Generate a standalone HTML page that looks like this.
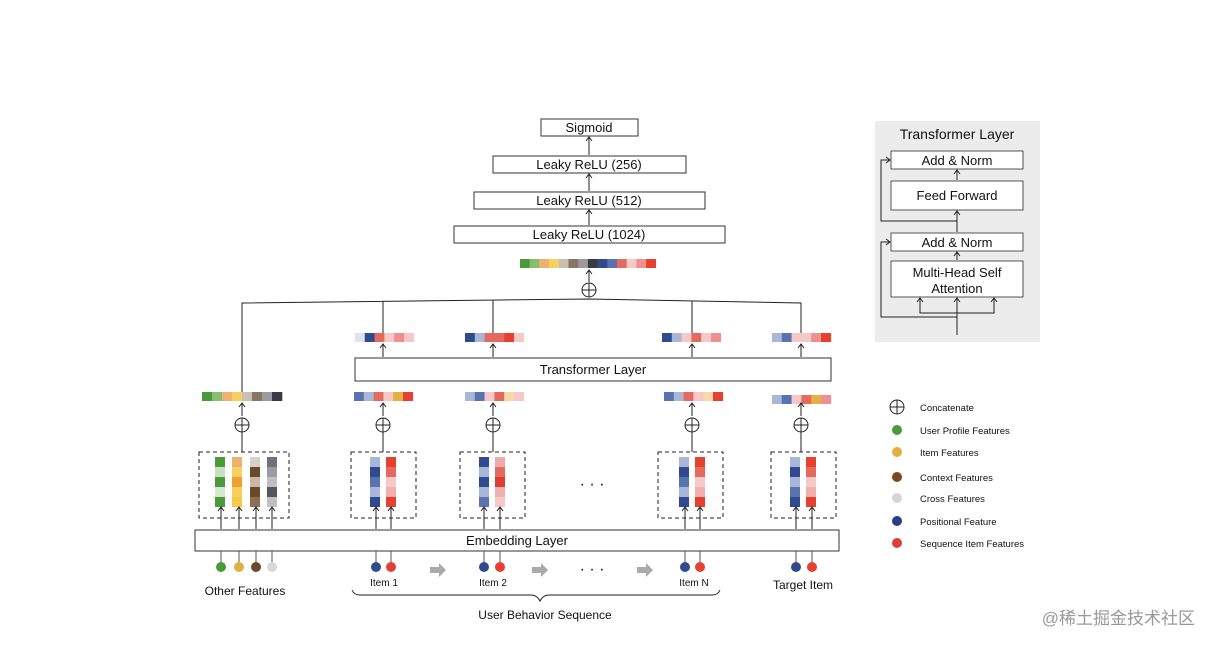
<!DOCTYPE html><html><head><meta charset="utf-8"><style>body{margin:0;background:#fff}svg{display:block;font-family:"Liberation Sans",Arial,sans-serif}</style></head><body>
<svg id="s" width="1216" height="647" viewBox="0 0 1216 647" xmlns="http://www.w3.org/2000/svg">
<defs><marker id="a" markerWidth="8" markerHeight="8" refX="7" refY="4" orient="auto" markerUnits="userSpaceOnUse"><path d="M3,1 L7,4 L3,7" fill="none" stroke="#222" stroke-width="1"/></marker>
<marker id="r" markerWidth="8" markerHeight="8" refX="7" refY="4" orient="auto" markerUnits="userSpaceOnUse"><path d="M3,1 L7,4 L3,7" fill="none" stroke="#222" stroke-width="1"/></marker></defs>
<g fill="#fff" stroke="#333" stroke-width="1">
<rect x="541" y="119" width="97" height="17"/><rect x="493" y="156" width="193" height="17"/><rect x="474" y="192" width="231" height="17"/><rect x="454" y="226" width="271" height="17"/>
<rect x="355" y="358" width="476" height="23"/><rect x="195" y="530" width="644" height="21"/></g>
<g font-size="13" fill="#111" text-anchor="middle">
<text x="589" y="132">Sigmoid</text><text x="589" y="169">Leaky ReLU (256)</text><text x="589" y="205">Leaky ReLU (512)</text><text x="589" y="239">Leaky ReLU (1024)</text>
<text x="593" y="374">Transformer Layer</text><text x="517" y="545">Embedding  Layer</text>
<text x="245" y="595" font-size="12">Other Features</text><text x="803" y="589" font-size="12">Target Item</text>
<text x="545" y="619" font-size="12">User Behavior Sequence</text>
<text x="384" y="586" font-size="10">Item 1</text><text x="493" y="586" font-size="10">Item 2</text><text x="694" y="586" font-size="10">Item N</text>
<text x="592" y="489" font-size="16">· · ·</text><text x="592" y="574" font-size="16">· · ·</text></g>
<g stroke="#222" stroke-width="1" fill="none">
<line x1="589" y1="155" x2="589" y2="137" marker-end="url(#a)"/><line x1="589" y1="191" x2="589" y2="174" marker-end="url(#a)"/><line x1="589" y1="225" x2="589" y2="210" marker-end="url(#a)"/>
<line x1="589" y1="282" x2="589" y2="270" marker-end="url(#a)"/>
<path d="M242,395 V303 L589,299 L801,303 V333 M383,333 V301 M493,333 V300 M692,333 V301"/>
<rect x="199" y="452" width="90" height="66" stroke-dasharray="4,3"/><rect x="351" y="452" width="65" height="66" stroke-dasharray="4,3"/><rect x="460" y="452" width="65" height="66" stroke-dasharray="4,3"/><rect x="658" y="452" width="65" height="66" stroke-dasharray="4,3"/><rect x="771" y="452" width="65" height="66" stroke-dasharray="4,3"/>
<path d="M352,590 q2,5 8,5 H531 q6,0 9,6 q3,-6 9,-6 H712 q6,0 8,-5"/>
</g>
<g id="dyn"></g>
<g fill="#aaa"><path d="M430,567h9v-4l7,7l-7,7v-4h-9z"/><path d="M532,567h9v-4l7,7l-7,7v-4h-9z"/><path d="M637,567h9v-4l7,7l-7,7v-4h-9z"/></g>
<rect x="875" y="121" width="165" height="221" fill="#ececec"/>
<g fill="#fff" stroke="#555"><rect x="891" y="151" width="132" height="18"/><rect x="891" y="181" width="132" height="29"/><rect x="891" y="233" width="132" height="18"/><rect x="891" y="261" width="132" height="36"/></g>
<g font-size="13" fill="#111" text-anchor="middle"><text x="957" y="139" font-size="14">Transformer Layer</text><text x="957" y="165">Add &amp; Norm</text><text x="957" y="200">Feed Forward</text><text x="957" y="247">Add &amp; Norm</text><text x="957" y="277">Multi-Head Self</text><text x="957" y="293">Attention</text></g>
<g stroke="#222" fill="none"><line x1="957" y1="180" x2="957" y2="170" marker-end="url(#a)"/><line x1="957" y1="232" x2="957" y2="211" marker-end="url(#a)"/><line x1="957" y1="260" x2="957" y2="252" marker-end="url(#a)"/>
<path d="M957,335 V305 M957,313 H920 V305 M957,313 H994 V305" /><line x1="920" y1="306" x2="920" y2="298" marker-end="url(#a)"/><line x1="957" y1="306" x2="957" y2="298" marker-end="url(#a)"/><line x1="994" y1="306" x2="994" y2="298" marker-end="url(#a)"/>
<path d="M957,317 H881 V242 H890" marker-end="url(#r)"/><path d="M957,221 H881 V160 H890" marker-end="url(#r)"/></g>
<g font-size="9.5" fill="#111">
<text x="920" y="411">Concatenate</text><text x="920" y="434">User Profile Features</text><text x="920" y="456">Item Features</text><text x="920" y="481">Context Features</text><text x="920" y="502">Cross Features</text><text x="920" y="525">Positional Feature</text><text x="920" y="547">Sequence Item Features</text></g>
<g><circle cx="897" cy="430" r="5" fill="#4a9a3a"/><circle cx="897" cy="452" r="5" fill="#e0b040"/><circle cx="897" cy="477" r="5" fill="#7a4a1e"/><circle cx="897" cy="498" r="5" fill="#d5d5d5"/><circle cx="897" cy="521" r="5" fill="#273f86"/><circle cx="897" cy="543" r="5" fill="#de3f35"/></g>
<text x="1195" y="624" font-size="17" fill="#999" text-anchor="end" font-family="Liberation Sans,Noto Sans CJK SC,sans-serif">@稀土掘金技术社区</text>
</svg>
<script>
var g=document.getElementById('dyn'),h='';
function rect(x,y,w,hh,c){h+='<rect x="'+x+'" y="'+y+'" width="'+w+'" height="'+hh+'" fill="'+c+'"/>';}
function bar(x,y,cols,w){cols.forEach(function(c,i){rect(x+i*w,y,w+0.3,9,c)});}
function circ(cx,cy){h+='<circle cx="'+cx+'" cy="'+cy+'" r="7" fill="#fff" stroke="#222"/><path d="M'+(cx-7)+','+cy+'H'+(cx+7)+'M'+cx+','+(cy-7)+'V'+(cy+7)+'" stroke="#222"/>';}
function arr(x,y1,y2){h+='<line x1="'+x+'" y1="'+y1+'" x2="'+x+'" y2="'+y2+'" stroke="#222" marker-end="url(#a)"/>';}
var G='#4a9a3a',g2='#86c06e',O='#f0b070',Y='#f8d060',T='#c8c0b0',B='#8a7560',Gr='#9a9aa0',K='#3a3a44',N='#2f4a8f',n='#5a72b0',l='#a8b6d8',R='#e64030',r='#e46a60',p='#f6c8c8',pp='#ee9090';
bar(520,259,[G,g2,O,Y,T,B,Gr,K,N,n,r,p,pp,R],9.7);circ(589,290);
bar(202,392,[G,g2,O,Y,T,B,Gr,K],10);
bar(354,392,[n,l,r,p,'#e8b040',R],9.8);bar(465,392,[l,n,p,r,'#f8d8a8',p],9.8);bar(664,392,[n,l,r,p,'#f8d8a8',R],9.8);bar(772,395,[l,n,p,r,'#e8b040',pp],9.8);
bar(355,333,['#dde2ee',N,r,p,pp,p],9.8);bar(465,333,[N,l,r,r,R,p],9.8);bar(662,333,[N,l,p,r,p,pp],9.8);bar(772,333,[l,n,p,p,pp,R],9.8);
[383,493,692,801].forEach(function(x){arr(x,357,344);arr(x,416,403);circ(x,425);h+='<line x1="'+x+'" y1="432" x2="'+x+'" y2="452" stroke="#222"/>';});
arr(242,416,403);circ(242,425);h+='<line x1="242" y1="432" x2="242" y2="452" stroke="#222"/>';
function col(x,cs){cs.forEach(function(c,i){rect(x,457+i*10,10,10,c)});}
col(215,[G,'#c8e0c0',G,'#d8e8d0',G]);col(232,[O,Y,'#f0a030',Y,'#f8c848']);col(250,['#d8d0c8','#6a4a28','#c8b8a8','#6a4a28','#8a7050']);col(267,['#707078','#9a9aa0','#c0c0c4','#55555e','#c0c0c4']);
col(370,[l,N,n,l,N]);col(386,[R,r,p,'#f0b0b0',R]);col(479,[N,l,N,l,n]);col(495,['#eeaaaa',r,'#d84030','#f0b0b0',p]);
col(679,[l,N,n,l,N]);col(695,[R,r,p,'#f0b0b0',R]);col(790,[l,N,l,n,N]);col(806,[R,r,p,'#f0b0b0',R]);
[[221,G],[239,'#e0b040'],[256,'#6a4a28'],[272,'#d8d8d8'],[376,N],[391,R],[484,N],[500,R],[685,N],[700,R],[796,N],[812,R]].forEach(function(d){
h+='<line x1="'+d[0]+'" y1="562" x2="'+d[0]+'" y2="551" stroke="#555"/>';arr(d[0],529,507);h+='<circle cx="'+d[0]+'" cy="567" r="5" fill="'+d[1]+'"/>';});
h+='<circle cx="897" cy="407" r="7" fill="#fff" stroke="#222"/><path d="M890,407H904M897,400V414" stroke="#222"/>';
g.innerHTML=h;
</script>
</body></html>
